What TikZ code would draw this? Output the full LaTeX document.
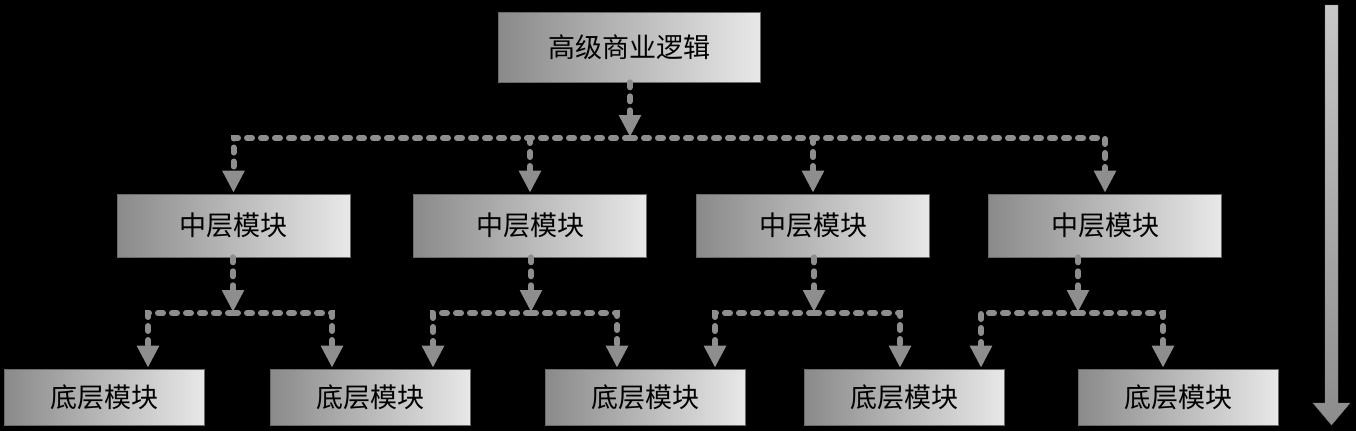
\documentclass[tikz,border=0pt]{standalone}
\usepackage{fontspec}
\usepackage{xcolor}
\setmainfont{Noto Sans CJK SC}
\usetikzlibrary{arrows.meta, calc}
\definecolor{ink}{HTML}{000000}
\definecolor{wire}{HTML}{8E8E8E}
\definecolor{boxdark}{HTML}{8A8A8A}
\definecolor{boxlight}{HTML}{E8E8E8}
\definecolor{boxedge}{HTML}{6A6A6A}
\tikzset{
  font=\fontsize{27}{30}\selectfont,
  %
  modbox/.style={
    draw=boxedge, line width=0.6pt, left color=boxdark, right color=boxlight,
    text=ink, inner sep=0pt, align=center,
  },
  topbox/.style={modbox, minimum width=262pt, minimum height=70pt},
  midbox/.style={modbox, minimum width=233pt, minimum height=63pt},
  lowbox/.style={modbox, minimum width=200pt, minimum height=56pt},
  %
  flow/.style={draw=wire, line width=6pt, dash pattern=on 5pt off 9pt,
               line cap=round, shorten >=1pt,
               -{Triangle[length=22pt, width=21pt, fill=wire]}},
}
\begin{document}
\begin{tikzpicture}[x=1pt, y=-1pt]

  % background and page size
  \fill[black] (0,0) rectangle (1356,431);
  \useasboundingbox (0,0) rectangle (1356,431);

  % =======================================================================
  % boxes
  % =======================================================================
  \node[topbox] (top) at (629.5,47) {高级商业逻辑};

  \foreach \i/\x in {1/233.5, 2/530, 3/813, 4/1105} {
    \node[midbox] (m\i) at (\x,225.5) {中层模块};
  }
  \foreach \j/\x in {1/104.5, 2/370, 3/645, 4/904.5, 5/1178} {
    \node[lowbox] (b\j) at (\x,397) {底层模块};
  }

  % =======================================================================
  % top -> middle
  % =======================================================================
  \coordinate (t0) at (630,138);
  \draw[flow] (top.south -| t0) -- (t0);
  \draw[flow] (t0) -| (m1.north);
  \draw[flow] (t0) -| (m4.north);
  \draw[flow] (t0 -| m2.north) -- (m2.north);
  \draw[flow] (t0 -| m3.north) -- (m3.north);

  % =======================================================================
  % middle -> bottom
  % =======================================================================
  \coordinate (j1) at (233,313);
  \coordinate (j2) at (531,313);
  \coordinate (j3) at (814,313);
  \coordinate (j4) at (1078,313);

  \draw[flow] (m1.south -| j1) -- (j1);
  \draw[flow] (m2.south -| j2) -- (j2);
  \draw[flow] (m3.south -| j3) -- (j3);
  \draw[flow] (m4.south -| j4) -- (j4);

  \draw[flow] (j1) -| ([xshift=43.5]b1.north);
  \draw[flow] (j1) -| ([xshift=-38]b2.north);
  \draw[flow] (j2) -| ([xshift=63]b2.north);
  \draw[flow] (j2) -| ([xshift=-28]b3.north);
  \draw[flow] (j3) -| ([xshift=70]b3.north);
  \draw[flow] (j3) -| ([xshift=-4.5]b4.north);
  \draw[flow] (j4) -| ([xshift=76.5]b4.north);
  \draw[flow] (j4) -| ([xshift=-15]b5.north);

  % the big arrow on the right
  \shade[top color=black!22, bottom color=black!45, draw=black!50, line width=0.4pt]
    (1325,5) -- (1338,5) -- (1338,403) -- (1350,403) -- (1331.5,425)
    -- (1313,403) -- (1325,403) -- cycle;

\end{tikzpicture}
\end{document}
